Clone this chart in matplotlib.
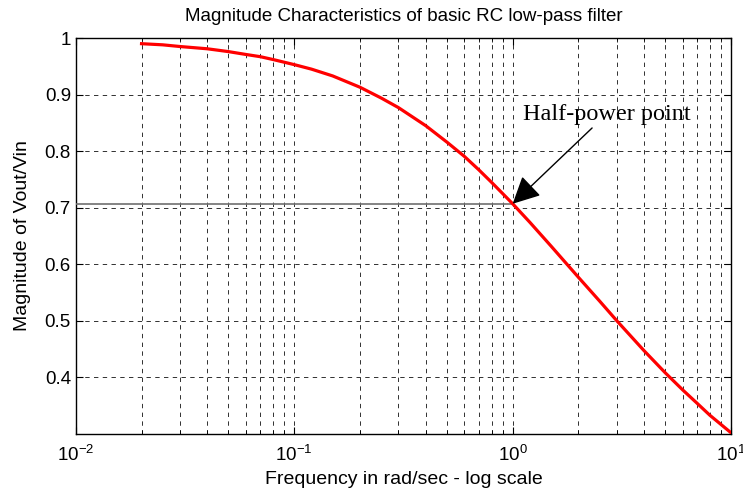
import numpy as np
import matplotlib
matplotlib.use('Agg')
import matplotlib.pyplot as plt
from matplotlib.ticker import LogLocator, NullFormatter

# values
freq = [0.02, 0.025, 0.03, 0.04, 0.05, 0.06, 0.07, 0.08, 0.1, 0.12, 0.15,
        0.2, 0.25, 0.3, 0.4, 0.5, 0.6, 0.7, 0.8, 0.9, 1.0, 1.2, 1.5, 2.0,
        2.5, 3.0, 4.0, 5.0, 6.0, 7.0, 8.0, 10.0]
mag = [0.990, 0.988, 0.985, 0.981, 0.976, 0.971, 0.967, 0.962, 0.953, 0.945, 0.933,
       0.913, 0.894, 0.877, 0.845, 0.816, 0.791, 0.767, 0.745, 0.725, 0.707, 0.674,
       0.632, 0.577, 0.535, 0.500, 0.447, 0.408, 0.378, 0.354, 0.333, 0.302]
half_power = 0.707
yticks = [0.4, 0.5, 0.6, 0.7, 0.8, 0.9, 1]
ytick_labels = ['0.4', '0.5', '0.6', '0.7', '0.8', '0.9', '1']

plt.rcParams['font.family'] = ['Liberation Sans', 'DejaVu Sans']

fig = plt.figure(figsize=(7.43, 4.94), dpi=100)
ax = fig.add_axes([0.102, 0.1215, 0.882, 0.8015])

ax.set_xscale('log')
ax.set_xlim(0.01, 10)
ax.set_ylim(0.3, 1)

dash = (0, (4.5, 4.5))
ax.grid(True, which='both', axis='x', color='#303030', linestyle=dash, linewidth=0.7)
ax.grid(True, which='major', axis='y', color='#303030', linestyle=dash, linewidth=0.7)
ax.set_axisbelow(True)

ax.plot([0.01, 1.0], [half_power, half_power], color='#707070', linewidth=1.2, zorder=3)
ax.plot(freq, mag, color='red', linewidth=2.3, zorder=4)

ax.text(1.12, 0.855, 'Half-power point', fontsize=17.5, family='Liberation Serif',
        ha='left', va='baseline', zorder=5)
ax.annotate('', xy=(1.0, half_power), xytext=(2.31, 0.841),
            arrowprops=dict(arrowstyle='-|>', color='black', lw=1.0,
                            mutation_scale=42, shrinkA=0, shrinkB=0), zorder=5)

ax.set_yticks(yticks)
ax.set_yticklabels(ytick_labels)
ax.xaxis.set_major_locator(LogLocator(base=10))
ax.xaxis.set_minor_locator(LogLocator(base=10, subs=np.arange(2, 10)))
ax.xaxis.set_minor_formatter(NullFormatter())
ax.tick_params(which='both', direction='in', top=True, right=True, labelsize=13.5)
ax.tick_params(which='major', length=5)
ax.tick_params(which='minor', length=3)
ax.tick_params(axis='x', pad=8)
for s in ax.spines.values():
    s.set_linewidth(1.0)

ax.set_title('Magnitude Characteristics of basic RC low-pass filter', fontsize=13.5, pad=12)
ax.set_xlabel('Frequency in rad/sec - log scale', fontsize=14, labelpad=4)
ax.set_ylabel('Magnitude of Vout/Vin', fontsize=14, labelpad=10)

fig.savefig('out.png', dpi=100)
